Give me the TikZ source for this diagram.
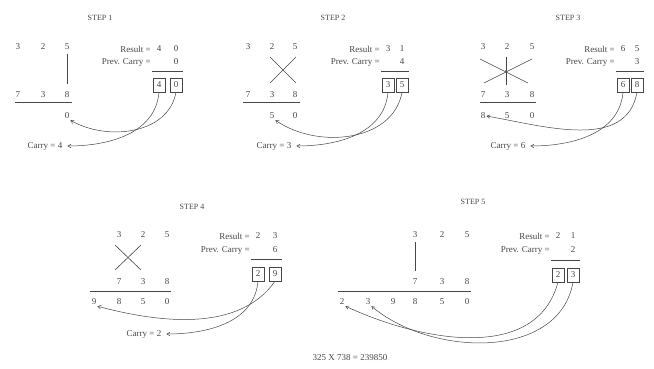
\documentclass[tikz,border=0pt]{standalone}
\usepackage{fontspec}
\setmainfont{Liberation Serif}
\usepackage{tikz}
\usetikzlibrary{
	positioning,
	arrows.meta,
	calc
}
\definecolor{InkGray}{RGB}{70,70,70}

\tikzset{
	digit/.style={inner sep=1pt, font=\fontsize{9}{10}\selectfont},
	steptitle/.style={inner sep=1pt, font=\fontsize{8}{9}\selectfont},
	rowtext/.style={inner sep=1pt, anchor=east, font=\fontsize{9}{10}\selectfont},
	carrytext/.style={inner ysep=1pt, inner xsep=5pt, font=\fontsize{9}{10}\selectfont},
	resbox/.style={draw, inner sep=0pt, minimum width=12pt, minimum height=14pt, font=\fontsize{9}{10}\selectfont},
	bendarrow/.style={-{Straight Barb[length=3pt,width=3.5pt]}, line width=0.5pt},
	rule/.style={line width=0.6pt},
	downline/.style={line width=0.6pt, shorten <=3pt, shorten >=7pt}
}

\begin{document}
\begin{tikzpicture}[x=1pt,y=-1pt, InkGray]
				
				\useasboundingbox (0,0) rectangle (654,369);
				
				% Step 1
				\node[steptitle] (s1title) at (100,18) {STEP 1};
				
				\node[digit] (s1t1) at (18,47) {3};
				\node[digit] (s1t2) at (43,47) {2};
				\node[digit] (s1t3) at (67,47) {5};
				\node[digit] (s1b1) at (18,95) {7};
				\node[digit] (s1b2) at (43,95) {3};
				\node[digit] (s1b3) at (67,95) {8};
				\node[digit] (s1r3) at (67,116) {0};
				
				\draw[downline] (s1t3.south) -- (s1b3.north);
				\draw[rule] (15,102) -- (72,102);
				
				\node[carrytext] (s1carry) at (45,146) {Carry = 4};
				
				\node[rowtext] (s1reslbl) at (152,49) {Result =};
				\node[digit] (s1res1) at (159,49) {4};
				\node[digit] (s1res2) at (176,49) {0};
				\node[rowtext] (s1prevlbl) at (152,62) {Prev. Carry =};
				\node[digit] (s1prev) at (176,62) {0};
				\draw[rule] (152,71) -- (183,71);
				\node[resbox] (s1box1) at (159,85) {4};
				\node[resbox] (s1box2) at (176,85) {0};
				
				\draw[bendarrow] (s1box1.south) to[out=-95,in=0] (s1carry.east);
				\draw[bendarrow] (s1box2.south) to[out=-100,in=-30] (s1r3.south east);
				
				% Step 2
				\node[steptitle] (s2title) at (333,18) {STEP 2};
				
				\node[digit] (s2t1) at (248,47) {3};
				\node[digit] (s2t2) at (272,47) {2};
				\node[digit] (s2t3) at (295,47) {5};
				\node[digit] (s2b1) at (248,95) {7};
				\node[digit] (s2b2) at (272,95) {3};
				\node[digit] (s2b3) at (295,95) {8};
				\node[digit] (s2r2) at (272,116) {5};
				\node[digit] (s2r3) at (295,116) {0};
				
				\draw[rule] (270,57) -- (296,83);
				\draw[rule] (296,57) -- (270,83);
				\draw[rule] (243,102) -- (300,102);
				
				\node[carrytext] (s2carry) at (274,146) {Carry = 3};
				
				\node[rowtext] (s2reslbl) at (381,49) {Result =};
				\node[digit] (s2res1) at (388,49) {3};
				\node[digit] (s2res2) at (402,49) {1};
				\node[rowtext] (s2prevlbl) at (381,62) {Prev. Carry =};
				\node[digit] (s2prev) at (402,62) {4};
				\draw[rule] (381,71) -- (409,71);
				\node[resbox] (s2box1) at (388,85) {3};
				\node[resbox] (s2box2) at (402,85) {5};
				
				\draw[bendarrow] (s2box1.south) to[out=-95,in=0] (s2carry.east);
				\draw[bendarrow] (s2box2.south) to[out=-100,in=-35] (s2r2.south east);
				
				% Step 3
				\node[steptitle] (s3title) at (568,18) {STEP 3};
				
				\node[digit] (s3t1) at (483,47) {3};
				\node[digit] (s3t2) at (507,47) {2};
				\node[digit] (s3t3) at (532,47) {5};
				\node[digit] (s3b1) at (483,95) {7};
				\node[digit] (s3b2) at (507,95) {3};
				\node[digit] (s3b3) at (532,95) {8};
				\node[digit] (s3r1) at (483,116) {8};
				\node[digit] (s3r2) at (507,116) {5};
				\node[digit] (s3r3) at (532,116) {0};
				
				\coordinate (s3mid) at (506,71);
				\draw[rule] ($(s3mid)+(-26,-12)$) -- ($(s3mid)+(22,12)$);
				\draw[rule] ($(s3mid)+(26,-12)$) -- ($(s3mid)+(-22,12)$);
				\draw[rule] ($(s3mid)+(0,-14)$) -- ($(s3mid)+(0,14)$);
				\fill (s3mid) circle (1pt);
				\draw[rule] (480,102) -- (536,102);
				
				\node[carrytext] (s3carry) at (508,146) {Carry = 6};
				
				\node[rowtext] (s3reslbl) at (616,49) {Result =};
				\node[digit] (s3res1) at (623,49) {6};
				\node[digit] (s3res2) at (637,49) {5};
				\node[rowtext] (s3prevlbl) at (616,62) {Prev. Carry =};
				\node[digit] (s3prev) at (637,62) {3};
				\draw[rule] (616,71) -- (644,71);
				\node[resbox] (s3box1) at (623,85) {6};
				\node[resbox] (s3box2) at (637,85) {8};
				
				\draw[bendarrow] (s3box1.south) to[out=-95,in=0] (s3carry.east);
				\draw[bendarrow] (s3box2.south) to[out=-100,in=-10] (s3r1.east);
				
				% Step 4
				\node[steptitle] (s4title) at (192,207) {STEP 4};
				
				\node[digit] (s4t1) at (119,235) {3};
				\node[digit] (s4t2) at (143,235) {2};
				\node[digit] (s4t3) at (167,235) {5};
				\node[digit] (s4b1) at (119,282) {7};
				\node[digit] (s4b2) at (143,282) {3};
				\node[digit] (s4b3) at (167,282) {8};
				\node[digit] (s4r0) at (94,302) {9};
				\node[digit] (s4r1) at (119,302) {8};
				\node[digit] (s4r2) at (143,302) {5};
				\node[digit] (s4r3) at (167,302) {0};
				
				\draw[rule] (115,245) -- (141,270);
				\draw[rule] (141,245) -- (115,270);
				\draw[rule] (90,291) -- (171,291);
				
				\node[carrytext] (s4carry) at (144,334) {Carry = 2};
				
				\node[rowtext] (s4reslbl) at (251,236) {Result =};
				\node[digit] (s4res1) at (258,236) {2};
				\node[digit] (s4res2) at (275,236) {3};
				\node[rowtext] (s4prevlbl) at (251,250) {Prev. Carry =};
				\node[digit] (s4prev) at (275,250) {6};
				\draw[rule] (251,259) -- (282,259);
				\node[resbox] (s4box1) at (258,274) {2};
				\node[resbox] (s4box2) at (275,274) {9};
				
				\draw[bendarrow] (s4box1.south) to[out=-95,in=0] (s4carry.east);
				\draw[bendarrow] (s4box2.south) to[out=-125,in=-15,looseness=0.9] (s4r0.south east);
				
				% Step 5
				\node[steptitle] (s5title) at (473,202) {STEP 5};
				
				\node[digit] (s5t1) at (415,235) {3};
				\node[digit] (s5t2) at (442,235) {2};
				\node[digit] (s5t3) at (467,235) {5};
				\node[digit] (s5b1) at (415,282) {7};
				\node[digit] (s5b2) at (442,282) {3};
				\node[digit] (s5b3) at (467,282) {8};
				\node[digit] (s5r0) at (342,302) {2};
				\node[digit] (s5r1) at (368,302) {3};
				\node[digit] (s5r2) at (393,302) {9};
				\node[digit] (s5r3) at (415,302) {8};
				\node[digit] (s5r4) at (442,302) {5};
				\node[digit] (s5r5) at (467,302) {0};
				
				\draw[downline] (s5t1.south) -- (s5b1.north);
				\draw[rule] (338,291) -- (471,291);
				
				\node[rowtext] (s5reslbl) at (551,236) {Result =};
				\node[digit] (s5res1) at (558,236) {2};
				\node[digit] (s5res2) at (573,236) {1};
				\node[rowtext] (s5prevlbl) at (551,250) {Prev. Carry =};
				\node[digit] (s5prev) at (573,250) {2};
				\draw[rule] (551,260) -- (580,260);
				\node[resbox] (s5box1) at (558,275) {2};
				\node[resbox] (s5box2) at (573,275) {3};
				
				\draw[bendarrow] (s5box1.south) to[out=-105,in=-25] (s5r0.south east);
				\draw[bendarrow] (s5box2.south) to[out=-100,in=-40] (s5r1.south east);
				
				% Product
				\node[digit] (product) at (350,358) {325 X 738 = 239850};
				
			\end{tikzpicture}
\end{document}
